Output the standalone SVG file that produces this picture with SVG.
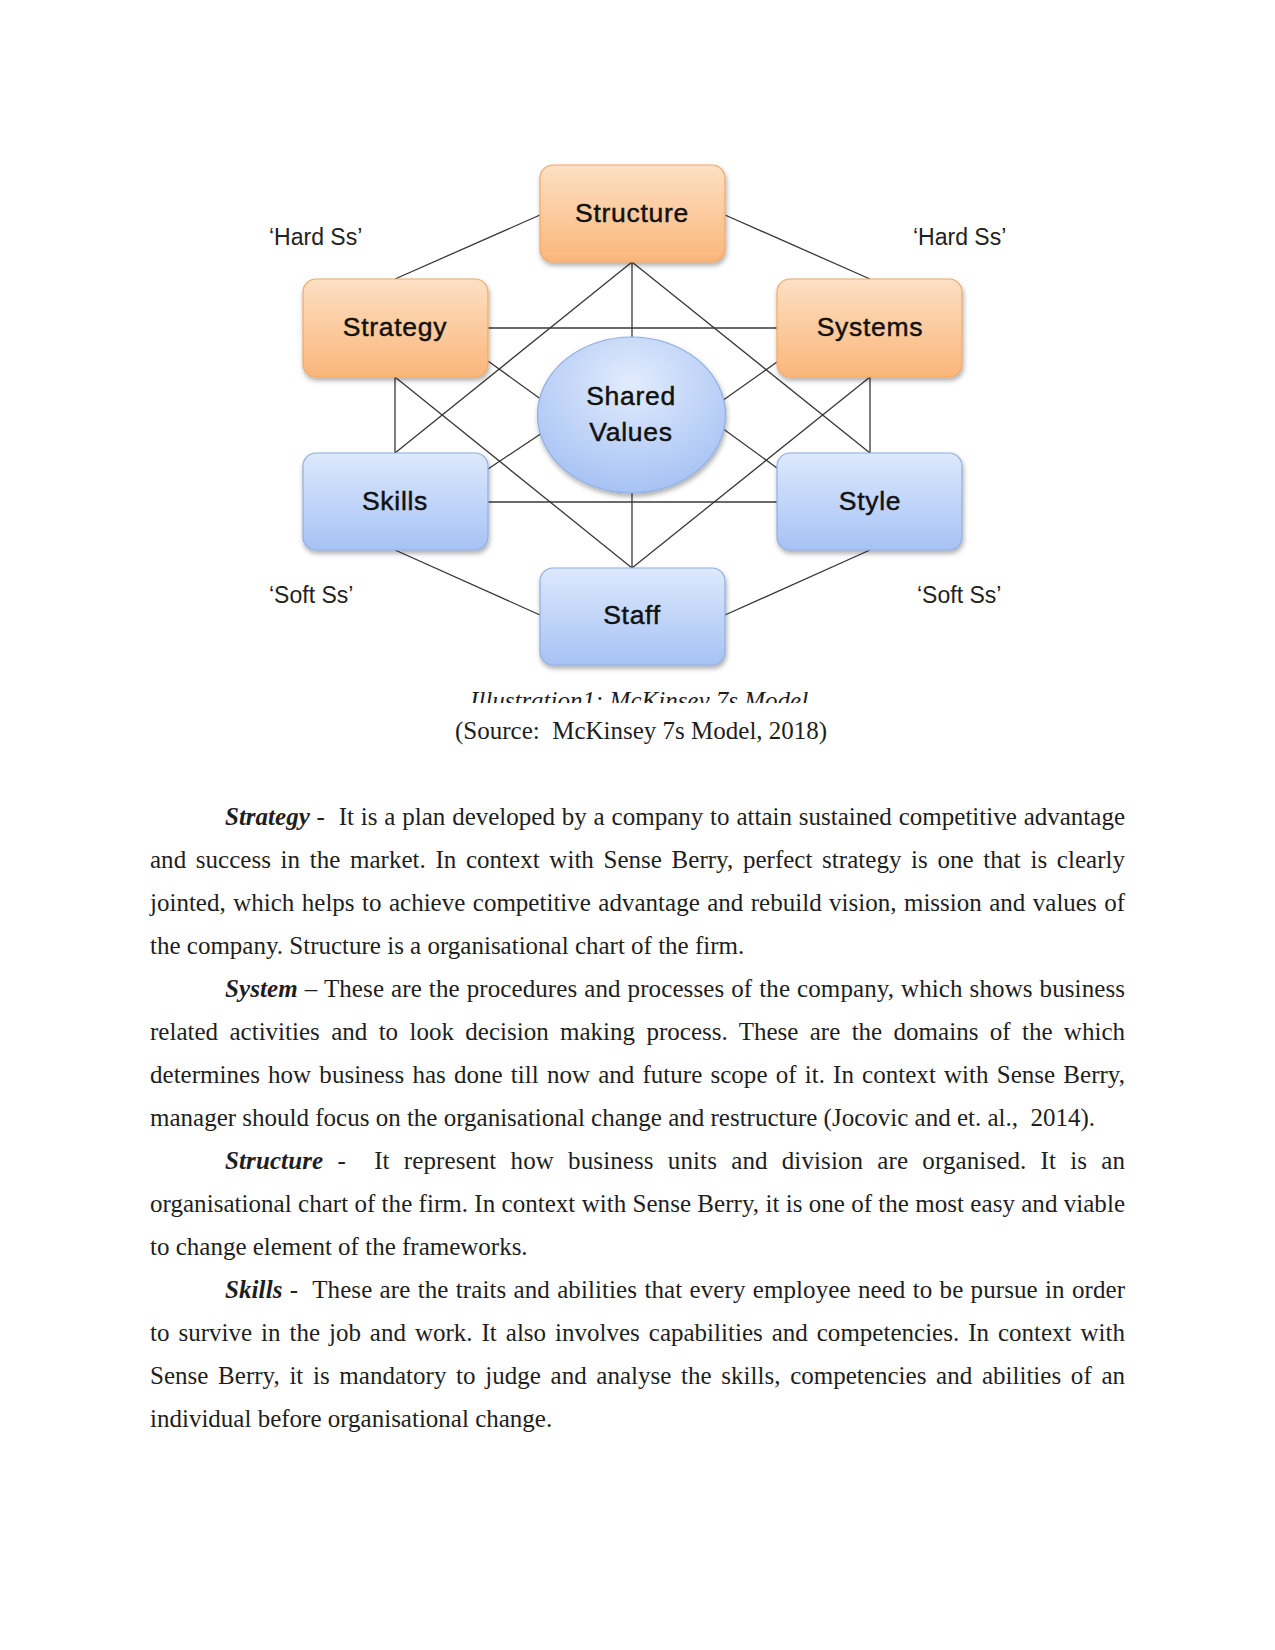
<svg xmlns="http://www.w3.org/2000/svg" width="1275" height="1650" viewBox="0 0 1275 1650">
<style>
.hard{fill:url(#gOrange);stroke:#f2a865;stroke-width:1.2}
.soft{fill:url(#gBlue);stroke:#8eaee3;stroke-width:1.2}
.lbl{font-family:"Liberation Sans",Arial,sans-serif;font-size:26.5px;fill:#111;text-anchor:middle;letter-spacing:0.7px;stroke:#111;stroke-width:0.45}
.side{font-family:"Liberation Sans",Arial,sans-serif;font-size:23px;fill:#222}
.conn line{stroke:#383838;stroke-width:1.3}
.body{font-family:"Liberation Serif","Times New Roman",serif;font-size:25px;fill:#1e1e1e}
.bi{font-weight:bold;font-style:italic}
</style>
<defs>
<linearGradient id="gOrange" x1="0" y1="0" x2="0" y2="1">
<stop offset="0" stop-color="#fde0c4"/>
<stop offset="1" stop-color="#fab67a"/>
</linearGradient>
<linearGradient id="gBlue" x1="0" y1="0" x2="0" y2="1">
<stop offset="0" stop-color="#dde9fd"/>
<stop offset="1" stop-color="#a6c2f4"/>
</linearGradient>
<radialGradient id="gEll" cx="0.5" cy="0.3" r="0.75">
<stop offset="0" stop-color="#e2ecfd"/>
<stop offset="1" stop-color="#a2bff3"/>
</radialGradient>
<filter id="sh" x="-20%" y="-20%" width="140%" height="150%">
<feDropShadow dx="1" dy="3" stdDeviation="2.4" flood-color="#000" flood-opacity="0.33"/>
</filter>
<clipPath id="capClip"><rect x="0" y="680" width="1275" height="23"/></clipPath>
</defs>
<rect width="1275" height="1650" fill="#fff"/>

<g class="conn" id="connectors">
<line x1="395" y1="279" x2="540" y2="215"/>
<line x1="725" y1="215" x2="870" y2="279"/>
<line x1="488" y1="328" x2="777" y2="328"/>
<line x1="632" y1="262" x2="632" y2="337"/>
<line x1="632" y1="262" x2="395" y2="453"/>
<line x1="632" y1="262" x2="870" y2="453"/>
<line x1="395" y1="377" x2="395" y2="453"/>
<line x1="870" y1="377" x2="870" y2="453"/>
<line x1="395" y1="377" x2="632" y2="568"/>
<line x1="870" y1="377" x2="632" y2="568"/>
<line x1="488" y1="502" x2="777" y2="502"/>
<line x1="632" y1="493" x2="632" y2="568"/>
<line x1="395" y1="550" x2="540" y2="615"/>
<line x1="870" y1="550" x2="725" y2="615"/>
<line x1="488" y1="361" x2="542" y2="400"/>
<line x1="777" y1="362" x2="722" y2="401"/>
<line x1="488" y1="469" x2="542" y2="433"/>
<line x1="777" y1="468" x2="722" y2="428"/>
</g>

<g id="structure"><rect class="hard" x="540" y="165" width="185" height="97" rx="13" filter="url(#sh)"/><text class="lbl" x="632" y="222">Structure</text></g>
<g id="strategy"><rect class="hard" x="303" y="279" width="185" height="98" rx="13" filter="url(#sh)"/><text class="lbl" x="395" y="336">Strategy</text></g>
<g id="systems"><rect class="hard" x="777" y="279" width="185" height="98" rx="13" filter="url(#sh)"/><text class="lbl" x="870" y="336">Systems</text></g>
<g id="shared-values"><ellipse cx="631.5" cy="415" rx="94" ry="78" fill="url(#gEll)" stroke="#8eaee3" stroke-width="1.2" filter="url(#sh)"/><text class="lbl" x="631" y="405">Shared</text><text class="lbl" x="631" y="441">Values</text></g>
<g id="skills"><rect class="soft" x="303" y="453" width="185" height="97" rx="13" filter="url(#sh)"/><text class="lbl" x="395" y="510">Skills</text></g>
<g id="style"><rect class="soft" x="777" y="453" width="185" height="97" rx="13" filter="url(#sh)"/><text class="lbl" x="870" y="510">Style</text></g>
<g id="staff"><rect class="soft" x="540" y="568" width="185" height="97" rx="13" filter="url(#sh)"/><text class="lbl" x="632" y="624">Staff</text></g>

<g id="side-labels">
<text class="side" x="269" y="245">‘Hard Ss’</text>
<text class="side" x="913" y="245">‘Hard Ss’</text>
<text class="side" x="269" y="603">‘Soft Ss’</text>
<text class="side" x="917" y="603">‘Soft Ss’</text>
</g>

<g id="caption">
<text class="body" x="470" y="709" font-style="italic" clip-path="url(#capClip)">Illustration1: McKinsey 7s Model</text>
<text class="body" x="455" y="739" xml:space="preserve">(Source:  McKinsey 7s Model, 2018)</text>
</g>

<g id="body-text">
<text class="body" x="225" y="825" textLength="900" lengthAdjust="spacing" word-spacing="0.6" xml:space="preserve"><tspan class="bi">Strategy</tspan> -  It is a plan developed by a company to attain sustained competitive advantage</text>
<text class="body" x="150" y="868" textLength="975" lengthAdjust="spacing" word-spacing="3.4">and success in the market. In context with Sense Berry, perfect strategy is one that is clearly</text>
<text class="body" x="150" y="911" textLength="975" lengthAdjust="spacing" word-spacing="1.2">jointed, which helps to achieve competitive advantage and rebuild vision, mission and values of</text>
<text class="body" x="150" y="954">the company. Structure is a organisational chart of the firm.</text>

<text class="body" x="225" y="997" textLength="900" lengthAdjust="spacing" word-spacing="0.6"><tspan class="bi">System</tspan> – These are the procedures and processes of the company, which shows business</text>
<text class="body" x="150" y="1040" textLength="975" lengthAdjust="spacing" word-spacing="5.1">related activities and to look decision making process. These are the domains of the which</text>
<text class="body" x="150" y="1083" textLength="975" lengthAdjust="spacing" word-spacing="1.9">determines how business has done till now and future scope of it. In context with Sense Berry,</text>
<text class="body" x="150" y="1126" xml:space="preserve">manager should focus on the organisational change and restructure (Jocovic and et. al.,  2014).</text>

<text class="body" x="225" y="1169" textLength="900" lengthAdjust="spacing" word-spacing="7.8" xml:space="preserve"><tspan class="bi">Structure</tspan> -  It represent how business units and division are organised. It is an</text>
<text class="body" x="150" y="1212" textLength="975" lengthAdjust="spacing">organisational chart of the firm. In context with Sense Berry, it is one of the most easy and viable</text>
<text class="body" x="150" y="1255">to change element of the frameworks.</text>

<text class="body" x="225" y="1298" textLength="900" lengthAdjust="spacing" word-spacing="0.9" xml:space="preserve"><tspan class="bi">Skills</tspan> -  These are the traits and abilities that every employee need to be pursue in order</text>
<text class="body" x="150" y="1341" textLength="975" lengthAdjust="spacing" word-spacing="2.7">to survive in the job and work. It also involves capabilities and competencies. In context with</text>
<text class="body" x="150" y="1384" textLength="975" lengthAdjust="spacing" word-spacing="3.4">Sense Berry, it is mandatory to judge and analyse the skills, competencies and abilities of an</text>
<text class="body" x="150" y="1427">individual before organisational change.</text>
</g>
</svg>
